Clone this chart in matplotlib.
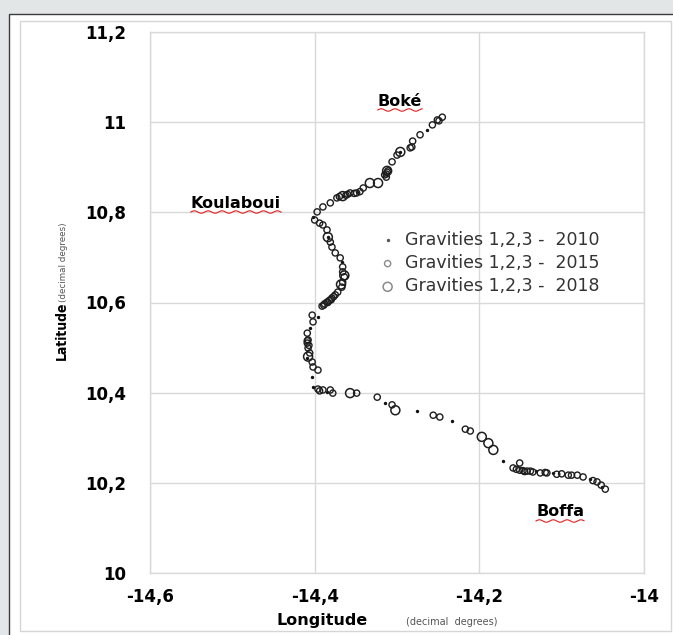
import numpy as np
import matplotlib
matplotlib.use("Agg")
import matplotlib.pyplot as plt
from matplotlib.patches import Rectangle
from matplotlib.lines import Line2D

# ---------------- data (decimal degrees) ----------------
lon_2010 = [-14.402, -14.406, -14.409, -14.403, -14.402, -14.385, -14.315, -14.276,
            -14.233, -14.171, -14.111, -14.066, -14.264, -14.296, -14.366, -14.396,
            -14.051, -14.367, -14.131, -14.384, -14.349]
lat_2010 = [10.790, 10.543, 10.477, 10.435, 10.413, 10.401, 10.377, 10.359,
            10.337, 10.248, 10.222, 10.208, 10.983, 10.934, 10.836, 10.568,
            10.191, 10.690, 10.226, 10.745, 10.845]

lon_2015 = [-14.245, -14.251, -14.257, -14.272, -14.281, -14.282, -14.284, -14.300,
            -14.306, -14.312, -14.315, -14.313, -14.341, -14.349, -14.357, -14.360,
            -14.373, -14.381, -14.390, -14.397, -14.400, -14.394, -14.390, -14.385,
            -14.381, -14.379, -14.375, -14.369, -14.366, -14.366, -14.364, -14.366,
            -14.367, -14.372, -14.375, -14.379, -14.385, -14.391, -14.388, -14.382,
            -14.403, -14.402, -14.409, -14.408, -14.409, -14.408, -14.406, -14.403,
            -14.402, -14.396, -14.396, -14.390, -14.381, -14.394, -14.378, -14.349,
            -14.324, -14.306, -14.256, -14.248, -14.217, -14.211, -14.151, -14.159,
            -14.151, -14.142, -14.135, -14.126, -14.118, -14.100, -14.092, -14.081,
            -14.074, -14.057, -14.047, -14.155, -14.145, -14.106, -14.062,
            -14.313, -14.311, -14.352, -14.362, -14.370, -14.345, -14.384, -14.389,
            -14.380, -14.407, -14.409, -14.147, -14.138, -14.120, -14.088, -14.052,
            -14.249, -14.377]
lat_2015 = [11.011, 11.005, 10.994, 10.972, 10.958, 10.945, 10.943, 10.927,
            10.912, 10.889, 10.883, 10.878, 10.854, 10.843, 10.843, 10.840,
            10.832, 10.821, 10.812, 10.801, 10.783, 10.776, 10.772, 10.761,
            10.734, 10.723, 10.710, 10.699, 10.679, 10.668, 10.657, 10.645,
            10.634, 10.623, 10.617, 10.610, 10.601, 10.592, 10.597, 10.605,
            10.572, 10.557, 10.532, 10.517, 10.510, 10.499, 10.488, 10.468,
            10.457, 10.450, 10.408, 10.406, 10.406, 10.404, 10.399, 10.399,
            10.390, 10.373, 10.350, 10.346, 10.319, 10.315, 10.244, 10.233,
            10.228, 10.226, 10.224, 10.222, 10.222, 10.220, 10.217, 10.217,
            10.213, 10.202, 10.186, 10.230, 10.225, 10.219, 10.205,
            10.885, 10.892, 10.842, 10.838, 10.835, 10.846, 10.600, 10.594,
            10.606, 10.505, 10.515, 10.227, 10.226, 10.223, 10.217, 10.195,
            11.003, 10.613]

lon_2018 = [-14.323, -14.333, -14.302, -14.197, -14.189, -14.183, -14.296, -14.366,
            -14.384, -14.364, -14.408, -14.357, -14.312, -14.368]
lat_2018 = [10.865, 10.865, 10.361, 10.302, 10.288, 10.273, 10.934, 10.836,
            10.745, 10.660, 10.480, 10.399, 10.892, 10.640]

x_ticks = [-14.6, -14.4, -14.2, -14.0]
x_tick_labels = ["-14,6", "-14,4", "-14,2", "-14"]
y_ticks = [10.0, 10.2, 10.4, 10.6, 10.8, 11.0, 11.2]
y_tick_labels = ["10", "10,2", "10,4", "10,6", "10,8", "11", "11,2"]
series_labels = ["Gravities 1,2,3 -  2010", "Gravities 1,2,3 -  2015", "Gravities 1,2,3 -  2018"]
place_names = ["Boké", "Koulaboui", "Boffa"]

# ---------------- figure ----------------
W, H = 673, 635
fig = plt.figure(figsize=(W / 100, H / 100), dpi=100)
fig.patch.set_facecolor("#e2e6e7")

def fx(x):
    return x / W

def fy(y):
    return 1 - y / H

# white panel with dark border and inner light frame
fig.patches.append(Rectangle((fx(9), fy(660)), fx(700), (660 - 14) / H,
                             transform=fig.transFigure, facecolor="white",
                             edgecolor="#3c3c3c", linewidth=1.0, zorder=-2))
fig.patches.append(Rectangle((fx(20), fy(631)), fx(671 - 20), (631 - 21) / H,
                             transform=fig.transFigure, facecolor="none",
                             edgecolor="#d6d6d6", linewidth=1.0, zorder=-1))

ax = fig.add_axes([fx(150), fy(573), fx(644 - 150), (573 - 32) / H])
ax.set_zorder(2)
ax.set_facecolor("white")
ax.set_xlim(-14.6, -14.0)
ax.set_ylim(10.0, 11.2)
ax.set_xticks(x_ticks)
ax.set_xticklabels(x_tick_labels)
ax.set_yticks(y_ticks)
ax.set_yticklabels(y_tick_labels)
ax.tick_params(length=0, labelsize=12, labelcolor="black")
ax.tick_params(axis="y", pad=17)
ax.tick_params(axis="x", pad=11)
for lab in ax.get_xticklabels() + ax.get_yticklabels():
    lab.set_fontweight("bold")
ax.grid(True, color="#d9d9d9", linewidth=1.0)
ax.set_axisbelow(True)
for s in ax.spines.values():
    s.set_color("#d9d9d9")
    s.set_linewidth(1.0)

ec = "#1e1e1e"
ax.scatter(lon_2010, lat_2010, s=6, marker="o", color="#111111", linewidths=0,
           label=series_labels[0], zorder=3)
ax.scatter(lon_2015, lat_2015, s=20, marker="o", facecolors="none", edgecolors=ec,
           linewidths=1.0, label=series_labels[1], zorder=3)
ax.scatter(lon_2018, lat_2018, s=42, marker="o", facecolors="none", edgecolors=ec,
           linewidths=1.1, label=series_labels[2], zorder=3)

leg = ax.legend(loc="upper left", bbox_to_anchor=((372 - 150) / 494, (573 - 224) / 541),
                frameon=False, fontsize=12.5, handletextpad=0.5, labelspacing=0.3,
                handlelength=1.0, borderaxespad=0)
for t in leg.get_texts():
    t.set_color("#333333")
for h in leg.legend_handles[1:]:
    h.set_edgecolor("#8a8a8a")
leg.legend_handles[0].set_facecolor("#555555")

# place names with red spell-check underline
names_pos = [(400, 101), (236, 203), (560, 512)]
fig.canvas.draw()
for name, (px, py) in zip(place_names, names_pos):
    t = fig.text(fx(px), fy(py), name, ha="center", va="center", fontsize=11.5,
                 fontweight="bold", color="black", zorder=5)
    bb = t.get_window_extent(renderer=fig.canvas.get_renderer())
    xs = np.linspace(bb.x0, bb.x1, 80)
    ys = bb.y0 - 1.5 + 1.2 * np.sin((xs - bb.x0) / 2.2)
    fig.lines.append(Line2D(xs / W, ys / H, transform=fig.transFigure, color="#e02020",
                            linewidth=0.8, zorder=5))

# axis titles
fig.text(fx(322), fy(620), "Longitude", ha="center", va="center", fontsize=11.5,
         fontweight="bold", color="black")
fig.text(fx(452), fy(622), "(decimal  degrees)", ha="center", va="center", fontsize=7,
         color="#555555")
fig.text(fx(62), fy(331), "Latitude", ha="center", va="center", fontsize=10,
         fontweight="bold", color="black", rotation=90, fontstretch="condensed")
fig.text(fx(63), fy(262), "(decimal degrees)", ha="center", va="center", fontsize=6.3,
         color="#555555", rotation=90)

fig.savefig("out.png", dpi=100, facecolor=fig.get_facecolor())
